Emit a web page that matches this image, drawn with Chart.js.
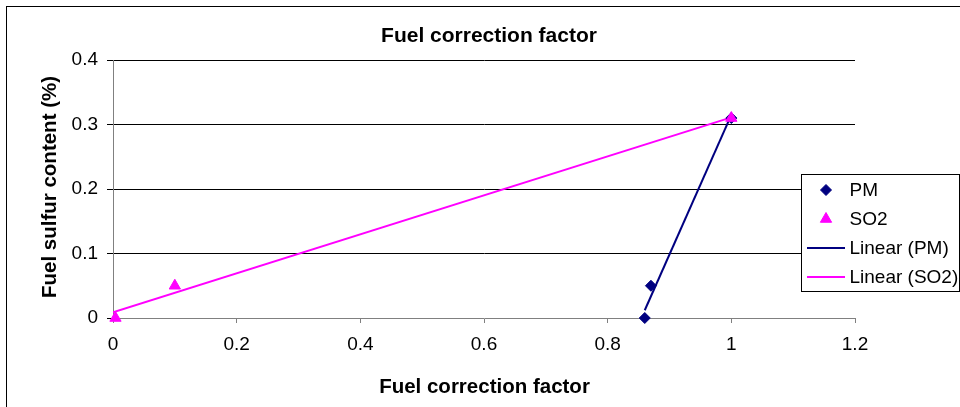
<!DOCTYPE html>
<html>
<head>
<meta charset="utf-8">
<style>
  html, body { margin: 0; padding: 0; background: #fff; }
  #wrap { width: 960px; height: 407px; position: relative; }
</style>
<script src="https://cdn.jsdelivr.net/npm/chart.js@4"></script>
</head>
<body>
<div id="wrap"><canvas id="c" width="960" height="407"></canvas></div>
<script>
// ---- data ----
const chartTitle = 'Fuel correction factor';
const xTitle = 'Fuel correction factor';
const yTitle = 'Fuel sulfur content (%)';
const seriesNames = ['PM', 'SO2', 'Linear (PM)', 'Linear (SO2)'];
const pmX = [0.86, 0.87, 1.0];
const pmY = [0.0, 0.05, 0.31];
const so2X = [0.004, 0.1, 1.0];
const so2Y = [0.0, 0.05, 0.31];
const pmTrendX = [0.86, 1.0];
const pmTrendY = [0.012, 0.315];
const so2TrendX = [0.0, 1.0];
const so2TrendY = [0.009, 0.311];
const xTickValues = [0, 0.2, 0.4, 0.6, 0.8, 1.0, 1.2];
const xTickLabels = ['0', '0.2', '0.4', '0.6', '0.8', '1', '1.2'];
const yTickValues = [0, 0.1, 0.2, 0.3, 0.4];
const yTickLabels = ['0', '0.1', '0.2', '0.3', '0.4'];

const NAVY = '#000080';
const MAGENTA = '#FF00FF';
const FONT = "'Liberation Sans', Arial, Helvetica, sans-serif";

function pts(xs, ys) { return xs.map((x, i) => ({ x: x, y: ys[i] })); }

Chart.defaults.font.family = FONT;
Chart.defaults.color = '#000';

const decorPlugin = {
  id: 'decor',
  beforeDraw(chart) {
    const ctx = chart.ctx;
    ctx.save();
    ctx.fillStyle = '#fff';
    ctx.fillRect(0, 0, chart.width, chart.height);
    ctx.fillStyle = '#000';
    ctx.fillRect(6, 6, chart.width - 6, 1);
    ctx.fillRect(6, 6, 1, chart.height - 6);
    ctx.restore();
  },
  afterDraw(chart) {
    const ctx = chart.ctx;
    ctx.save();
    ctx.fillStyle = '#000';
    ctx.textBaseline = 'alphabetic';
    ctx.textAlign = 'center';
    ctx.font = 'bold 21px ' + FONT;
    ctx.fillText(chartTitle, 489, 42);
    ctx.font = 'bold 20.5px ' + FONT;
    ctx.fillText(xTitle, 484.5, 393);
    ctx.save();
    ctx.translate(55.5, 187);
    ctx.rotate(-Math.PI / 2);
    ctx.fillText(yTitle, 0, 0);
    ctx.restore();

    // legend
    const lx = 801, ly = 174, lw = 158, lh = 117;
    ctx.fillStyle = '#fff';
    ctx.fillRect(lx, ly, lw, lh);
    ctx.strokeStyle = '#000';
    ctx.lineWidth = 1;
    ctx.strokeRect(lx + 0.5, ly + 0.5, lw, lh);
    const rows = [190, 219, 248, 277];
    const ds = chart.data.datasets;
    ctx.font = '19px ' + FONT;
    ctx.textAlign = 'left';
    ctx.textBaseline = 'middle';
    ds.forEach((d, i) => {
      const y = rows[i];
      if (d.showLine) {
        ctx.strokeStyle = d.borderColor;
        ctx.lineWidth = 2;
        ctx.beginPath();
        ctx.moveTo(807, y);
        ctx.lineTo(845, y);
        ctx.stroke();
      } else {
        ctx.fillStyle = d.backgroundColor;
        ctx.strokeStyle = d.borderColor;
        ctx.lineWidth = d.borderWidth;
        ctx.beginPath();
        const r = d.pointRadius;
        if (d.pointStyle === 'rectRot') {
          ctx.moveTo(826 - r, y); ctx.lineTo(826, y - r);
          ctx.lineTo(826 + r, y); ctx.lineTo(826, y + r);
        } else {
          ctx.moveTo(826, y - r);
          ctx.lineTo(826 + r * 0.866, y + r / 2);
          ctx.lineTo(826 - r * 0.866, y + r / 2);
        }
        ctx.closePath();
        ctx.fill();
        ctx.stroke();
      }
      ctx.fillStyle = '#000';
      ctx.fillText(d.label, 849.5, y + 1);
    });
    ctx.restore();
  }
};

new Chart(document.getElementById('c'), {
  type: 'scatter',
  data: {
    datasets: [
      {
        label: seriesNames[0], data: pts(pmX, pmY), order: 1, clip: false,
        pointStyle: 'rectRot', pointRadius: 5.5, pointHoverRadius: 5.5,
        backgroundColor: NAVY, borderColor: NAVY, borderWidth: 1, showLine: false
      },
      {
        label: seriesNames[1], data: pts(so2X, so2Y), order: 0, clip: false,
        pointStyle: 'triangle', pointRadius: 6.5, pointHoverRadius: 6.5,
        backgroundColor: MAGENTA, borderColor: MAGENTA, borderWidth: 1, showLine: false
      },
      {
        label: seriesNames[2], data: pts(pmTrendX, pmTrendY), order: 3,
        showLine: true, borderColor: NAVY, backgroundColor: NAVY, borderWidth: 2,
        pointRadius: 0, pointHoverRadius: 0, fill: false
      },
      {
        label: seriesNames[3], data: pts(so2TrendX, so2TrendY), order: 2,
        showLine: true, borderColor: MAGENTA, backgroundColor: MAGENTA, borderWidth: 2,
        pointRadius: 0, pointHoverRadius: 0, fill: false
      }
    ]
  },
  options: {
    responsive: false,
    animation: false,
    events: [],
    layout: { padding: { left: 0, top: 60, right: 105, bottom: 0 } },
    plugins: { legend: { display: false }, title: { display: false }, tooltip: { enabled: false } },
    scales: {
      x: {
        type: 'linear', min: 0, max: 1.2,
        afterBuildTicks(scale) { scale.ticks = xTickValues.map(v => ({ value: v })); },
        afterFit(scale) { scale.height = 89; },
        ticks: {
          font: { size: 19 }, color: '#000', padding: 10, maxRotation: 0,
          callback: (v, i) => xTickLabels[i]
        },
        grid: { drawOnChartArea: false, drawTicks: true, tickLength: 5, tickColor: '#808080', lineWidth: 1 },
        border: { display: true, color: '#808080', width: 1 }
      },
      y: {
        type: 'linear', min: 0, max: 0.4,
        afterBuildTicks(scale) { scale.ticks = yTickValues.map(v => ({ value: v })); },
        afterFit(scale) { scale.width = 113; },
        ticks: {
          font: { size: 19 }, color: '#000', padding: 9,
          callback: (v, i) => yTickLabels[i]
        },
        grid: {
          drawTicks: true, tickLength: 6, lineWidth: 1,
          color: (c) => (c.tick && c.tick.value === 0) ? 'rgba(0,0,0,0)' : '#000',
          tickColor: '#000'
        },
        border: { display: true, color: '#808080', width: 1 }
      }
    }
  },
  plugins: [decorPlugin]
});
</script>
</body>
</html>
